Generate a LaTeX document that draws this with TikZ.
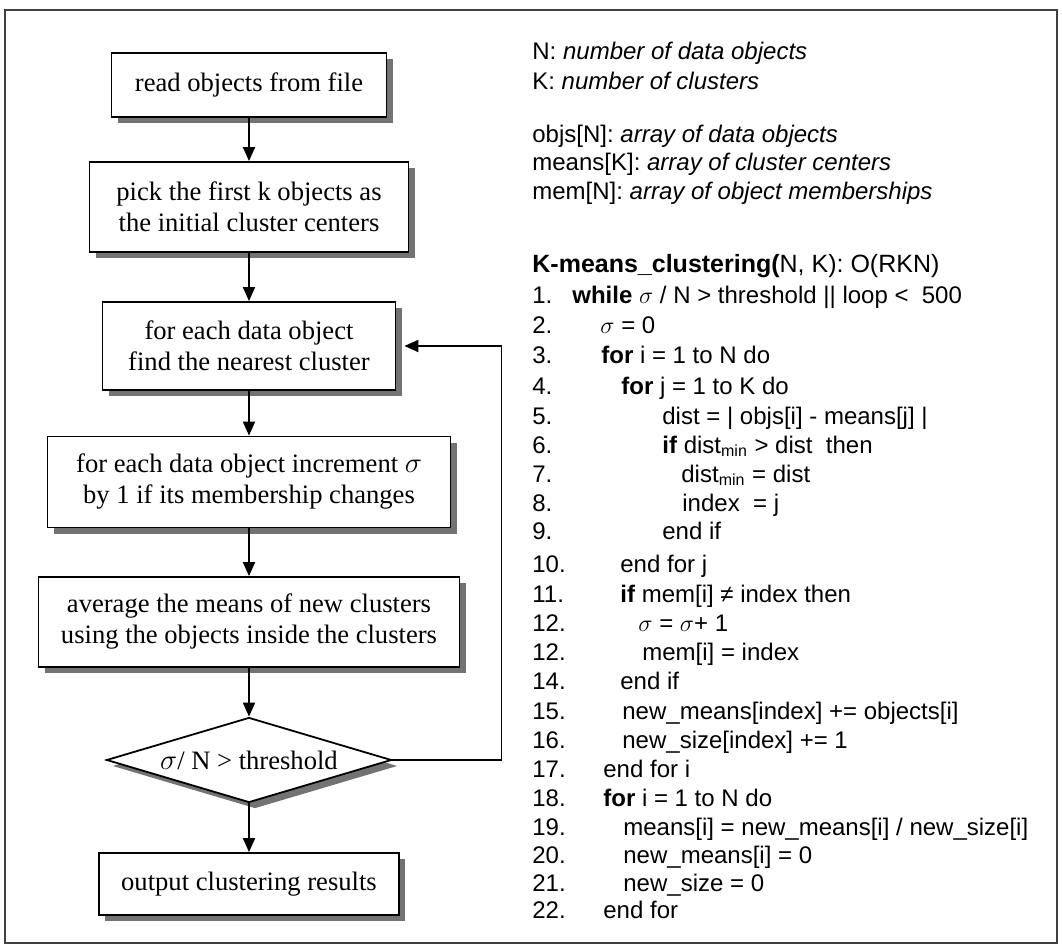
\documentclass[tikz,border=0pt]{standalone}
\usepackage{fontspec}
\setmainfont{Liberation Serif}
\setsansfont{Liberation Sans}
\usetikzlibrary{shapes.geometric,shadows,arrows.meta}
\tikzset{
  flowbox/.style={draw, fill=white, line width=0.9pt, inner sep=0pt, align=center,
    font=\fontsize{13.3}{15.5}\selectfont,
    drop shadow={shadow xshift=3pt, shadow yshift=-3pt, fill=black!55, opacity=1}},
  testbox/.style={flowbox, diamond, aspect=3.35, minimum width=142.5pt, minimum height=42.5pt},
  arr/.style={-{Triangle[length=7pt,width=6pt]}, line width=0.9pt},
  infotext/.style={anchor=base west, inner sep=0pt, font=\sffamily\fontsize{12}{14}\selectfont},
  lineno/.style={infotext},
  codeline/.style={infotext}
}
\begin{document}
\begin{tikzpicture}[x=0.5pt,y=0.5pt]
\useasboundingbox (0,0) rectangle (1062,-947);
\draw[line width=0.6pt, black!75] (5,-10) rectangle (1057,-943);
% flow chart
\node[flowbox, minimum width=137.5pt, minimum height=32pt] (read) at (249,-85) {read objects from file};
\node[flowbox, minimum width=159.5pt, minimum height=45pt] (pick) at (249,-207) {pick the first k objects as\\the initial cluster centers};
\node[flowbox, minimum width=146.5pt, minimum height=44pt] (find) at (249,-346) {for each data object\\find the nearest cluster};
\node[flowbox, minimum width=201.5pt, minimum height=45.5pt] (incr) at (249,-482) {for each data object increment $\sigma$\\by 1 if its membership changes};
\node[flowbox, minimum width=210.5pt, minimum height=45pt] (avg) at (249,-622) {average the means of new clusters\\using the objects inside the clusters};
\node[testbox] (test) at (249,-760) {$\sigma$/ N > threshold};
\node[flowbox, minimum width=150pt, minimum height=31pt] (out) at (249,-884) {output clustering results};
\draw[arr] (read) -- (pick);
\draw[arr] (pick) -- (find);
\draw[arr] (find) -- (incr);
\draw[arr] (incr) -- (avg);
\draw[arr] (avg) -- (test);
\draw[arr] (test) -- (out);
\draw[arr] (test.east) -- ++(109,0) |- ([xshift=4pt]find.east);
% definitions
\node[infotext] (defn) at (532,-60) {N: \textit{number of data objects}};
\node[infotext] (defk) at (532,-90) {K: \textit{number of clusters}};
\node[infotext] (defobjs) at (532,-143) {objs[N]: \textit{array of data objects}};
\node[infotext] (defmeans) at (532,-171) {means[K]: \textit{array of cluster centers}};
\node[infotext] (defmem) at (532,-200) {mem[N]: \textit{array of object memberships}};
\node[infotext, font=\sffamily\fontsize{12.5}{14}\selectfont] (title) at (532,-272) {\textbf{K-means\_clustering(}N, K): O(RKN)};
% pseudo code
\node[lineno] (n1) at (532,-304) {1.};
\node[codeline] (c1) at (572,-304) {\textbf{while} $\sigma$ / N > threshold || loop <\ \ 500};
\node[lineno] (n2) at (532,-334) {2.};
\node[codeline] (c2) at (600,-334) {$\sigma$ = 0};
\node[lineno] (n3) at (532,-364) {3.};
\node[codeline] (c3) at (601,-364) {\textbf{for} i = 1 to N do};
\node[lineno] (n4) at (532,-394) {4.};
\node[codeline] (c4) at (621,-394) {\textbf{for} j = 1 to K do};
\node[lineno] (n5) at (532,-424) {5.};
\node[codeline] (c5) at (662,-424) {dist = | objs[i] - means[j] |};
\node[lineno] (n6) at (532,-453) {6.};
\node[codeline] (c6) at (662,-453) {\textbf{if} dist\textsubscript{min} > dist\ \ then};
\node[lineno] (n7) at (532,-482) {7.};
\node[codeline] (c7) at (681,-482) {dist\textsubscript{min} = dist};
\node[lineno] (n8) at (532,-511) {8.};
\node[codeline] (c8) at (682,-511) {index\ \ = j};
\node[lineno] (n9) at (532,-539) {9.};
\node[codeline] (c9) at (662,-539) {end if};
\node[lineno] (n10) at (532,-572) {10.};
\node[codeline] (c10) at (620,-572) {end for j};
\node[lineno] (n11) at (532,-602) {11.};
\node[codeline] (c11) at (620,-602) {\textbf{if} mem[i] ≠ index then};
\node[lineno] (n12) at (532,-631) {12.};
\node[codeline] (c12) at (638,-631) {$\sigma$ = $\sigma$+ 1};
\node[lineno] (n13) at (532,-660) {12.};
\node[codeline] (c13) at (642,-660) {mem[i] = index};
\node[lineno] (n14) at (532,-689) {14.};
\node[codeline] (c14) at (620,-689) {end if};
\node[lineno] (n15) at (532,-719) {15.};
\node[codeline] (c15) at (622,-719) {new\_means[index] += objects[i]};
\node[lineno] (n16) at (532,-748) {16.};
\node[codeline] (c16) at (622,-748) {new\_size[index] += 1};
\node[lineno] (n17) at (532,-777) {17.};
\node[codeline] (c17) at (603,-777) {end for i};
\node[lineno] (n18) at (532,-806) {18.};
\node[codeline] (c18) at (603,-806) {\textbf{for} i = 1 to N do};
\node[lineno] (n19) at (532,-835) {19.};
\node[codeline] (c19) at (623,-835) {means[i] = new\_means[i] / new\_size[i]};
\node[lineno] (n20) at (532,-863) {20.};
\node[codeline] (c20) at (623,-863) {new\_means[i] = 0};
\node[lineno] (n21) at (532,-891) {21.};
\node[codeline] (c21) at (623,-891) {new\_size = 0};
\node[lineno] (n22) at (532,-918) {22.};
\node[codeline] (c22) at (603,-918) {end for};
\end{tikzpicture}
\end{document}
